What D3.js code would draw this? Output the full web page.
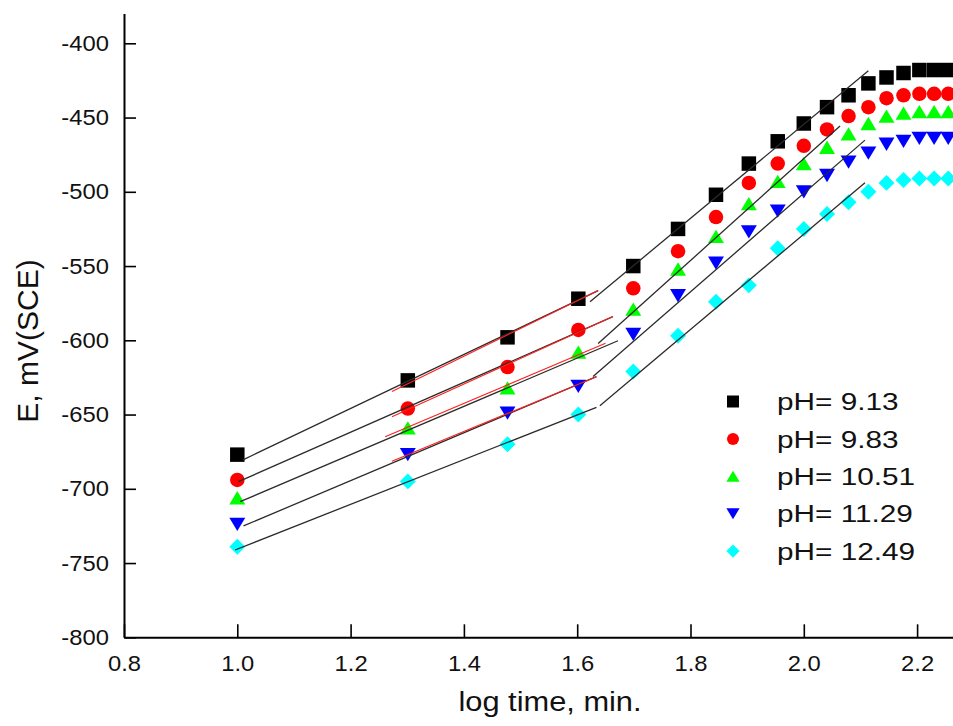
<!DOCTYPE html>
<html>
<head>
<meta charset="utf-8">
<script src="https://cdn.jsdelivr.net/npm/d3@7"></script>
<style>
    body { margin: 0; background: #fff; }
    svg { display: block; font-family: "Liberation Sans", Arial, sans-serif; }
</style>
</head>
<body>
<script>
// log time (min.) of every reading: 10, 20, 30 ... 180 min
const logTime = [1.0, 1.301, 1.477, 1.602, 1.699, 1.778, 1.845, 1.903, 1.954, 2.0, 2.041, 2.079, 2.114, 2.146, 2.176, 2.204, 2.230, 2.255];

// E in mV(SCE), one array per pH
const ph913 = [-677, -627, -598, -572, -550, -525, -502, -481, -466, -454, -443, -435, -427, -423, -420, -418, -418, -418];
const ph983 = [-694, -646, -618, -593, -565, -540, -517, -494, -481, -469, -458, -449, -443, -437, -435, -434, -434, -434];
const ph1051 = [-706, -659, -632, -608, -579, -552, -530, -508, -493, -481, -470, -461, -454, -449, -447, -446, -446, -446];
const ph1129 = [-724, -677, -649, -631, -596, -570, -548, -527, -513, -500, -489, -480, -474, -468, -466, -464, -464, -464];
const ph1249 = [-739, -695, -670, -650, -621, -597, -574, -563, -538, -525, -515, -507, -500, -494, -492, -491, -491, -491];

const seriesNames = ['pH= 9.13', 'pH= 9.83', 'pH= 10.51', 'pH= 11.29', 'pH= 12.49'];
const seriesColors = ['#000000', '#ff0000', '#00ff00', '#0000ff', '#00ffff'];
const seriesShapes = ['square', 'circle', 'triangleUp', 'triangleDown', 'diamond'];

// fitted straight lines [x1, E1, x2, E2]
const lowFits = [
    [1.010, -680.5, 1.637, -566.5],
    [1.002, -695.2, 1.663, -584.1],
    [1.005, -708.7, 1.672, -600.3],
    [1.011, -725.0, 1.634, -624.5],
    [0.996, -741.2, 1.634, -645.1]
];
const redFits = [
    [1.273, -634.5, 1.637, -566.5],
    [1.273, -651.5, 1.663, -584.0],
    [1.261, -665.0, 1.650, -602.0],
    [1.273, -681.5, 1.634, -624.5]
];
const highFits = [
    [1.6226, -574.0, 2.114, -418.5],
    [1.637, -602.2, 2.064, -455.7],
    [1.628, -624.4, 2.108, -465.2],
    [1.640, -644.0, 2.108, -493.9]
];

const xTicks = [0.8, 1.0, 1.2, 1.4, 1.6, 1.8, 2.0, 2.2];
const xTickLabels = ['0.8', '1.0', '1.2', '1.4', '1.6', '1.8', '2.0', '2.2'];
const yTicks = [-800, -750, -700, -650, -600, -550, -500, -450, -400];
const yTickLabels = ['-800', '-750', '-700', '-650', '-600', '-550', '-500', '-450', '-400'];

const series = [ph913, ph983, ph1051, ph1129, ph1249].map((vals, i) => ({
    name: seriesNames[i],
    color: seriesColors[i],
    shape: seriesShapes[i],
    points: vals.map((v, j) => ({ x: logTime[j], e: v }))
}));

// --- svg ---
const width = 953;
const height = 726;
const svg = d3.select('body').append('svg')
    .attr('width', width)
    .attr('height', height);

const x = d3.scaleLinear().domain([0.8, 2.3]).range([124, 124 + 1.5 * 566.5]);
const y = d3.scaleLinear().domain([-800, -380]).range([637.3, 637.3 - 420 * 1.485]);

// marker paths, centred on the bounding box
function markerPath(shape, s) {
    const h = s / 2;
    if (shape === 'square') return `M${-h},${-h}h${s}v${s}h${-s}Z`;
    if (shape === 'triangleUp') return `M0,${-h * 0.92}L${h * 1.1},${h * 0.92}L${-h * 1.1},${h * 0.92}Z`;
    if (shape === 'triangleDown') return `M0,${h * 0.92}L${h * 1.1},${-h * 0.92}L${-h * 1.1},${-h * 0.92}Z`;
    if (shape === 'diamond') return `M0,${-h * 1.1}L${h * 1.1},0L0,${h * 1.1}L${-h * 1.1},0Z`;
    return d3.symbol(d3.symbolCircle, Math.PI * h * h)();
}

// markers
series.forEach(s => {
    svg.append('g')
        .selectAll('path')
        .data(s.points)
        .enter()
        .append('path')
        .attr('transform', d => `translate(${x(d.x)},${y(d.e)})`)
        .attr('d', markerPath(s.shape, 14.5))
        .attr('fill', s.color);
});

// fit lines on top of the markers
const fitG = svg.append('g');
function drawFits(data, color, w) {
    fitG.selectAll(null)
        .data(data)
        .enter()
        .append('line')
        .attr('x1', d => x(d[0]))
        .attr('y1', d => y(d[1]))
        .attr('x2', d => x(d[2]))
        .attr('y2', d => y(d[3]))
        .attr('stroke', color)
        .attr('stroke-width', w);
}
drawFits(lowFits, '#2b2b2b', 1.3);
drawFits(redFits, '#ff2020', 1.1);
drawFits(highFits, '#2b2b2b', 1.3);

// axes
const yAxis = d3.axisLeft(y)
    .tickValues(yTicks)
    .tickFormat((d, i) => yTickLabels[i])
    .tickSizeInner(-12)
    .tickSizeOuter(0)
    .tickPadding(14);

const xAxis = d3.axisBottom(x)
    .tickValues(xTicks)
    .tickFormat((d, i) => xTickLabels[i])
    .tickSizeInner(-13)
    .tickSizeOuter(0)
    .tickPadding(18);

const gy = svg.append('g')
    .attr('transform', 'translate(124,0)')
    .call(yAxis);
const gx = svg.append('g')
    .attr('transform', `translate(0,${y(-800)})`)
    .call(xAxis);

[gx, gy].forEach(g => {
    g.attr('font-family', null).attr('font-size', null);
    g.select('.domain').attr('stroke', '#000').attr('stroke-width', 2);
    g.selectAll('.tick line').attr('stroke', '#000').attr('stroke-width', 1.6);
    g.selectAll('.tick text')
        .attr('fill', '#111')
        .style('font-size', '22px')
        .attr('transform', 'scale(1.08,1)');
});

// axis titles
svg.append('text')
    .attr('transform', 'translate(550,711) scale(1.1,1)')
    .attr('text-anchor', 'middle')
    .style('font-size', '28px')
    .attr('fill', '#111')
    .text('log time, min.');

svg.append('text')
    .attr('transform', 'translate(38,341) rotate(-90)')
    .attr('text-anchor', 'middle')
    .style('font-size', '30px')
    .attr('fill', '#111')
    .text('E, mV(SCE)');

// legend
const legend = svg.append('g')
    .selectAll('g')
    .data(series)
    .enter()
    .append('g')
    .attr('transform', (d, i) => `translate(733,${401.5 + i * 37.4})`);

legend.append('path')
    .attr('d', d => markerPath(d.shape, 12))
    .attr('fill', d => d.color);

legend.append('text')
    .attr('transform', 'translate(44,0) scale(1.24,1)')
    .attr('dy', '0.36em')
    .style('font-size', '24px')
    .attr('fill', '#111')
    .text(d => d.name);
</script>
</body>
</html>
